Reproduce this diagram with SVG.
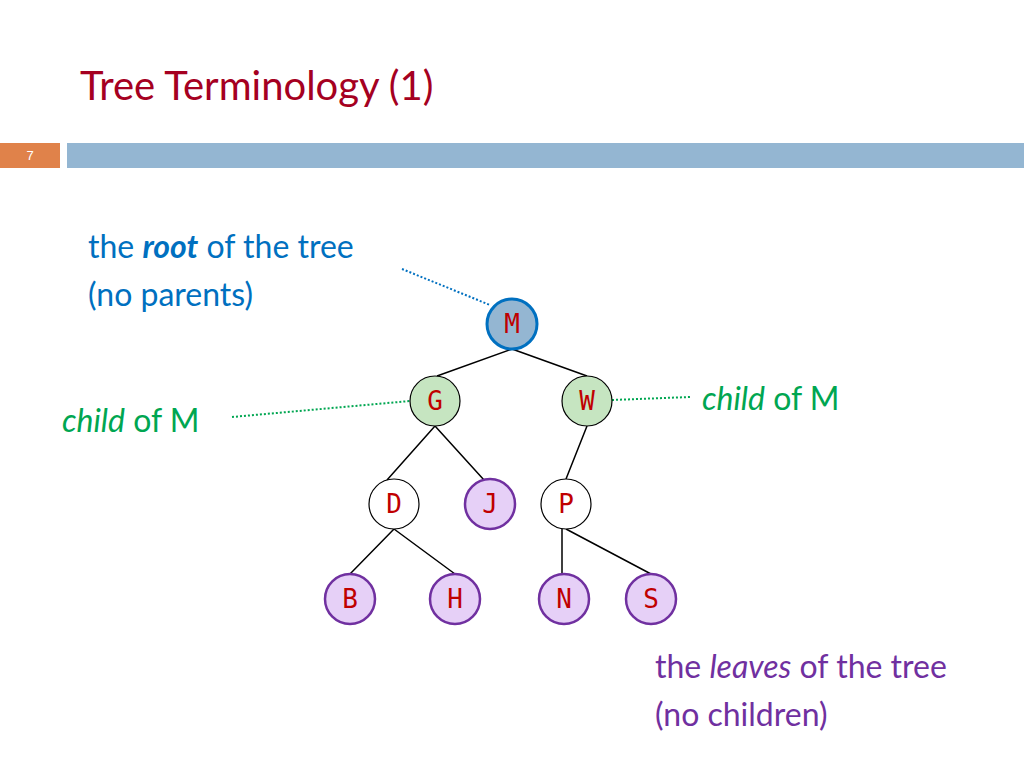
<svg xmlns="http://www.w3.org/2000/svg" width="1024" height="768" viewBox="0 0 1024 768">
<style>
.t{font-family:Lato,"Open Sans",sans-serif;font-size:32px}
.n{font-family:"DejaVu Sans Mono",monospace;font-size:26px;fill:#c00000;text-anchor:middle}
.e{stroke:#000;stroke-width:1.5;fill:none}
.w{fill:#fff;stroke:#000;stroke-width:1.2}
.g{fill:#c6e5c1;stroke:#000;stroke-width:1.2}
.p{fill:#e6d0f7;stroke:#7030a0;stroke-width:2.5}
</style>
<rect width="1024" height="768" fill="#fff"/>
<text x="80" y="100" font-family="Lato,'Open Sans',sans-serif" font-size="40" fill="#a50021">Tree Terminology (1)</text>
<rect x="0" y="143" width="60" height="25" fill="#e0824a"/>
<text x="30" y="160" font-family="Liberation Sans,sans-serif" font-size="13" fill="#fff" text-anchor="middle">7</text>
<rect x="67" y="143" width="957" height="25" fill="#94b6d2"/>
<g id="connectors">
<path class="e" d="M512 349L437 376M512 349L587 376M435 426L387 480M435 426L484 480M587 426L566 479M394 529L350 574M394 529L455 574M562 529L562 574M566 529L651 574"/>
<path d="M402 269L490 305" stroke="#0070c0" stroke-width="2" stroke-dasharray="2 2"/>
<path d="M232 417L410 401" stroke="#00a651" stroke-width="2" stroke-dasharray="2 2"/>
<path d="M612 400L690 397" stroke="#00a651" stroke-width="2" stroke-dasharray="2 2"/>
</g>
<g id="M"><circle cx="512" cy="324" r="25" fill="#94b6d2" stroke="#0070c0" stroke-width="3"/><text class="n" x="512" y="333">M</text></g>
<g id="G"><circle class="g" cx="435" cy="401" r="25"/><text class="n" x="435" y="410">G</text></g>
<g id="W"><circle class="g" cx="587" cy="401" r="25"/><text class="n" x="587" y="410">W</text></g>
<g id="D"><circle class="w" cx="394" cy="504" r="25"/><text class="n" x="394" y="513">D</text></g>
<g id="J"><circle class="p" cx="490" cy="504" r="25"/><text class="n" x="490" y="513">J</text></g>
<g id="P"><circle class="w" cx="566" cy="504" r="25"/><text class="n" x="566" y="513">P</text></g>
<g id="B"><circle class="p" cx="350" cy="599" r="25"/><text class="n" x="350" y="608">B</text></g>
<g id="H"><circle class="p" cx="455" cy="599" r="25"/><text class="n" x="455" y="608">H</text></g>
<g id="N"><circle class="p" cx="564" cy="599" r="25"/><text class="n" x="564" y="608">N</text></g>
<g id="S"><circle class="p" cx="651" cy="599" r="25"/><text class="n" x="651" y="608">S</text></g>
<g class="t" fill="#0070c0">
<text x="88" y="258">the <tspan font-weight="bold" font-style="italic">root</tspan> of the tree</text>
<text x="88" y="306">(no parents)</text>
</g>
<g class="t" fill="#00a651">
<text x="62" y="432"><tspan font-style="italic">child</tspan> of M</text>
<text x="702" y="410"><tspan font-style="italic">child</tspan> of M</text>
</g>
<g class="t" fill="#7030a0">
<text x="655" y="678">the <tspan font-style="italic">leaves</tspan> of the tree</text>
<text x="655" y="726">(no children)</text>
</g>
</svg>
